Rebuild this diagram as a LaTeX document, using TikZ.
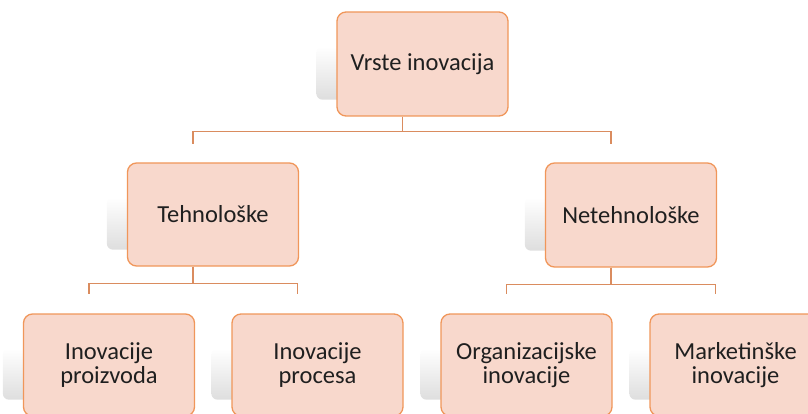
\documentclass[tikz,border=0pt]{standalone}
\usepackage{fontspec}
\setmainfont{Carlito}
\usetikzlibrary{backgrounds}
\definecolor{boxfill}{RGB}{248,216,204}
\definecolor{boxline}{RGB}{240,150,90}
\definecolor{connline}{RGB}{218,140,95}
\begin{document}
\begin{tikzpicture}[x=1pt,y=-1pt,
    box/.style={draw=boxline,line width=1.3pt,fill=boxfill,rounded corners=9pt,
        minimum width=171pt,minimum height=104pt,align=center,text=black!88,
        font=\fontsize{24.5}{23.5}\selectfont},
    shadowbox/.style={rounded corners=6pt,top color=white,bottom color=black!13,draw=none},
    conn/.style={draw=connline,line width=1.6pt}]
    \useasboundingbox (0,0) rectangle (808,414);
    % top level
    \node[box] (root) at (422.5,64) {Vrste inovacija};
    % second level
    \node[box,minimum height=103pt] (tech) at (213,214.5) {Tehnološke};
    \node[box] (netech) at (631,215) {Netehnološke};
    % bottom level
    \node[box,minimum height=102pt] (prod) at (109,365) {Inovacije\\proizvoda};
    \node[box,minimum height=102pt] (proc) at (317.5,365) {Inovacije\\procesa};
    \node[box,minimum height=102pt] (org) at (526.5,365) {Organizacijske\\inovacije};
    \node[box,minimum height=102pt] (mark) at (735.5,365) {Marketinške\\inovacije};
    % shadows behind the boxes
    \begin{scope}[on background layer]
        \foreach \n in {root,tech,netech,prod,proc,org,mark}
            \path[shadowbox] ([shift={(-20,35)}]\n.north west) rectangle ([shift={(-20,-17)}]\n.south east);
    \end{scope}
    % connectors
    \foreach \kid in {tech,netech}
        \draw[conn] ([xshift=-20pt]root.south) -- ++(0,15) -| ([xshift=-20pt,yshift=18pt]\kid.north);
    \foreach \kid in {prod,proc}
        \draw[conn] ([xshift=-20pt]tech.south) -- ++(0,17) -| ([xshift=-20pt,yshift=19pt]\kid.north);
    \foreach \kid in {org,mark}
        \draw[conn] ([xshift=-20pt]netech.south) -- ++(0,17) -| ([xshift=-20pt,yshift=19pt]\kid.north);
\end{tikzpicture}
\end{document}
